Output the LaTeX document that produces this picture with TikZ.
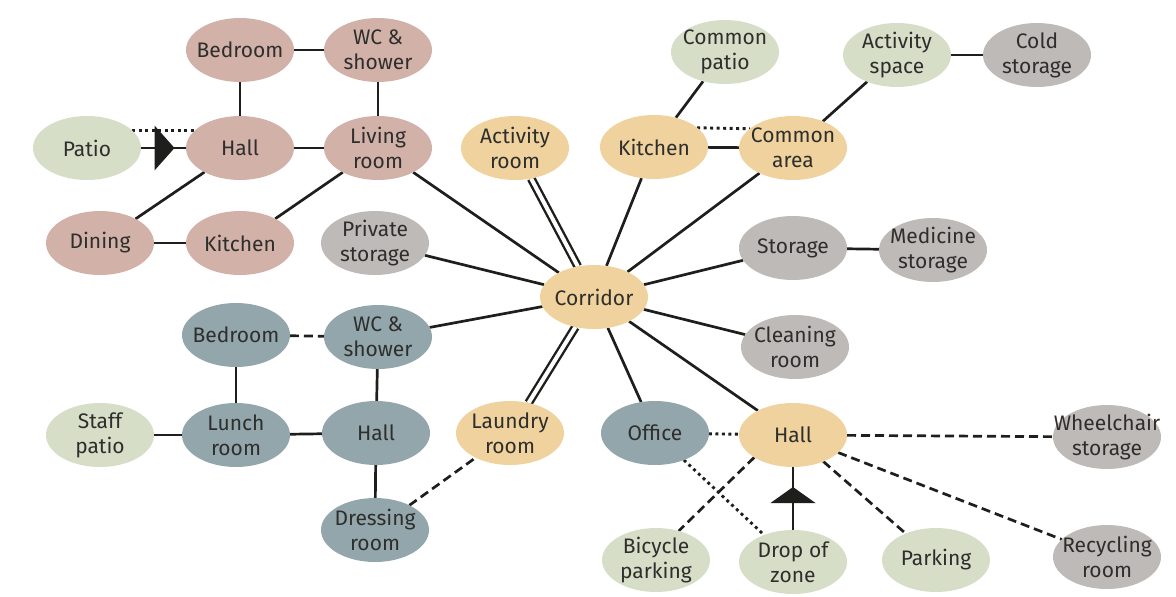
\documentclass[tikz,border=0pt]{standalone}
\usepackage{fontspec}
\setmainfont{Fira Sans}
\usetikzlibrary{shapes.geometric,decorations.markings}

\definecolor{pinkroom}{HTML}{D2B1A8}
\definecolor{greenroom}{HTML}{D6DEC7}
\definecolor{orangeroom}{HTML}{EFD29E}
\definecolor{greyroom}{HTML}{BEBAB7}
\definecolor{blueroom}{HTML}{93A6AC}
\definecolor{ink}{HTML}{1E1E1C}
\definecolor{txt}{HTML}{2E2E2C}

\pgfdeclarelayer{bg}
\pgfsetlayers{bg,main}

\tikzset{
  room/.style={ellipse, minimum width=108pt, minimum height=64pt,
    inner sep=0pt, outer sep=0pt, fill=#1},
  lbl/.style={font=\fontsize{21}{25}\selectfont, text=txt, align=center, inner sep=0pt},
  link/.style={draw=ink, line width=2.7pt},
  dashlink/.style={link, dash pattern=on 9pt off 5pt},
  dotlink/.style={draw=ink, line width=2.9pt, dash pattern=on 2.9pt off 3.6pt},
  twin/.style={draw=ink, line width=2.4pt, double=white, double distance=4pt},
  midtri/.style 2 args={postaction={decorate}, decoration={markings,
    mark=at position 0.5 with {\fill[ink] (#1,-22.5pt) -- (#2,0pt) -- (#1,22.5pt) -- cycle;}}},
}

% room: name, x, y, colour, label
\newcommand\room[5]{%
  \node[room=#4] (#1) at (#2,#3) {};
  \node[lbl] (#1-t) at (#1) {#5};}

\begin{document}
\begin{tikzpicture}[x=1pt,y=-1pt]
\useasboundingbox (0,0) rectangle (1176,597);

% apartment
\room{bedA}{240}{50}{pinkroom}{Bedroom}
\room{wcA}{378}{50}{pinkroom}{WC \&\\shower}
\room{patio}{87}{148}{greenroom}{Patio}
\room{hallA}{240}{148}{pinkroom}{Hall}
\room{living}{378}{148}{pinkroom}{Living\\room}
\room{dining}{100}{243}{pinkroom}{Dining}
\room{kitA}{240}{243}{pinkroom}{Kitchen}

% common spaces
\room{activity}{515}{148}{orangeroom}{Activity\\room}
\room{kitB}{654}{147}{orangeroom}{Kitchen}
\room{common}{793}{148}{orangeroom}{Common\\area}
\room{corridor}{594}{297}{orangeroom}{Corridor}
\room{laundry}{510}{433}{orangeroom}{Laundry\\room}
\room{hallB}{793}{435}{orangeroom}{Hall}

% outdoor
\room{cpatio}{725}{52}{greenroom}{Common\\patio}
\room{actspace}{897}{55}{greenroom}{Activity\\space}
\room{spatio}{100}{435}{greenroom}{Staff\\patio}
\room{bike}{656}{560}{greenroom}{Bicycle\\parking}
\room{drop}{793}{562}{greenroom}{Drop of\\zone}
\room{parking}{936}{560}{greenroom}{Parking}

% storage
\room{cold}{1037}{55}{greyroom}{Cold\\storage}
\room{private}{375}{243}{greyroom}{Private\\storage}
\room{storage}{793}{248}{greyroom}{Storage}
\room{medicine}{933}{250}{greyroom}{Medicine\\storage}
\room{cleaning}{795}{347}{greyroom}{Cleaning\\room}
\room{wheel}{1107}{437}{greyroom}{Wheelchair\\storage}
\room{recycle}{1107}{557}{greyroom}{Recycling\\room}

% staff area
\room{bedS}{236}{335}{blueroom}{Bedroom}
\room{wcS}{378}{337}{blueroom}{WC \&\\shower}
\room{lunch}{236}{435}{blueroom}{Lunch\\room}
\room{hallS}{376}{433}{blueroom}{Hall}
\room{dress}{375}{530}{blueroom}{Dressing\\room}
\room{office}{655}{433}{blueroom}{Office}

\begin{pgfonlayer}{bg}
  % apartment
  \draw[link] (bedA) -- (wcA);
  \draw[link] (bedA) -- (hallA);
  \draw[link] (wcA) -- (living);
  \draw[link] (hallA) -- (living);
  \draw[link, midtri={-9pt}{11pt}] (patio) -- (hallA);
  \draw[dotlink] (patio.21) -- (hallA.159);
  \draw[link] (dining) -- (hallA);
  \draw[link] (dining) -- (kitA);
  \draw[link] (kitA) -- (living);
  % corridor spokes
  \draw[link] (living) -- (corridor);
  \draw[twin] (activity) -- (corridor);
  \draw[link] (kitB) -- (corridor);
  \draw[link] (common) -- (corridor);
  \draw[link] (private) -- (corridor);
  \draw[link] (storage) -- (corridor);
  \draw[link] (cleaning) -- (corridor);
  \draw[link] (wcS) -- (corridor);
  \draw[twin] (laundry) -- (corridor);
  \draw[link] (office) -- (corridor);
  \draw[link] (hallB) -- (corridor);
  % common spaces
  \draw[link] (kitB) -- (common);
  \draw[dotlink] (kitB.24) -- (common.156);
  \draw[link] (kitB) -- (cpatio);
  \draw[link] (common) -- (actspace);
  \draw[link] (actspace) -- (cold);
  \draw[link] (storage) -- (medicine);
  % staff area
  \draw[dashlink] (bedS) -- (wcS);
  \draw[link] (bedS) -- (lunch);
  \draw[link] (wcS) -- (hallS);
  \draw[link] (lunch) -- (hallS);
  \draw[link] (spatio) -- (lunch);
  \draw[link] (hallS) -- (dress);
  \draw[dashlink] (dress) -- (laundry);
  % entrance hall
  \draw[dotlink] (office) -- (hallB);
  \draw[dotlink] (office) -- (drop);
  \draw[dashlink] (hallB.210) -- (bike.52);
  \draw[link, midtri={-4.5pt}{11.5pt}] (drop) -- (hallB);
  \draw[dashlink] (hallB) -- (parking);
  \draw[dashlink] (hallB) -- (wheel);
  \draw[dashlink] (hallB) -- (recycle);
\end{pgfonlayer}
\end{tikzpicture}
\end{document}
